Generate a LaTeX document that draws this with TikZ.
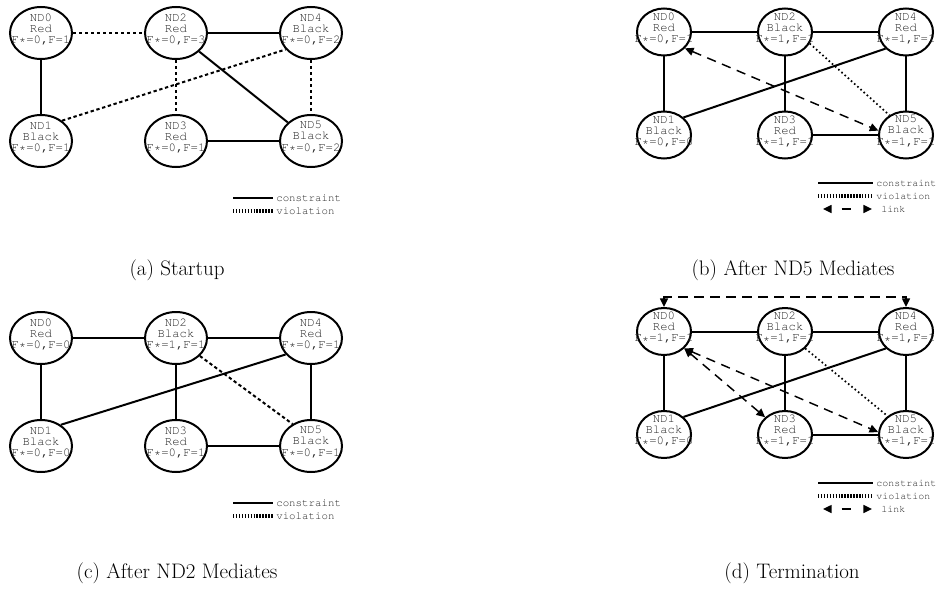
\documentclass[tikz,border=0pt]{standalone}
\usepackage[T1,TU]{fontenc}
\usetikzlibrary{shapes.geometric,positioning,arrows.meta}

\newcommand{\ndfont}{\fontencoding{T1}\fontfamily{pcr}\fontsize{9.2}{8.4}\selectfont}
\newcommand{\legfont}{\fontencoding{T1}\fontfamily{pcr}\fontsize{8.1}{9}\selectfont}
\newcommand{\legsmallfont}{\fontencoding{T1}\fontfamily{pcr}\fontsize{7.5}{9}\selectfont}

\tikzset{
  nd/.style={ellipse,draw,line width=1.5pt,inner sep=0pt,minimum width=46.5pt,minimum height=39pt},
  ndsmall/.style={nd,minimum width=40.5pt,minimum height=35.25pt},
  txt/.style={font=\ndfont,text=black!85,align=center,inner sep=0pt,yshift=3pt},
  constraint/.style={line width=1.5pt},
  violation/.style={line width=1.5pt,dash pattern=on 2.5pt off 2pt},
  dotviolation/.style={line width=1.3pt,dash pattern=on 1.2pt off 2pt},
  link/.style={<->,line width=1.1pt,dash pattern=on 7pt off 5pt},
  legviolation/.style={line width=3pt,dash pattern=on 1.1pt off 1.1pt},
  legtext/.style={font=\legfont,text=black!85,anchor=west,inner sep=0pt},
  caption/.style={font=\fontsize{15.75}{18}\selectfont}
}

\begin{document}
\begin{tikzpicture}[x=0.75pt,y=-0.75pt,>={Triangle[length=6.5pt,width=6pt]}]
  \useasboundingbox (0,0) rectangle (937,592);

  % (a) startup
  \begin{scope}[on grid,node distance=81pt and 101.25pt]
    \node[nd,label={[txt]center:{ND0\\Red\\F*=0,F=1}}] (a0) at (41,33) {};
    \node[nd,label={[txt]center:{ND2\\Red\\F*=0,F=3}}] (a2) [right=of a0] {};
    \node[nd,label={[txt]center:{ND4\\Black\\F*=0,F=2}}] (a4) [right=of a2] {};
    \node[nd,label={[txt]center:{ND1\\Black\\F*=0,F=1}}] (a1) [below=of a0] {};
    \node[nd,label={[txt]center:{ND3\\Red\\F*=0,F=1}}] (a3) [below=of a2] {};
    \node[nd,label={[txt]center:{ND5\\Black\\F*=0,F=2}}] (a5) [below=of a4] {};
  \end{scope}
  \draw[violation] (a0) -- (a2);
  \draw[constraint] (a2) -- (a4);
  \draw[constraint] (a0) -- (a1);
  \draw[violation] (a1.44) -- (a4.213);
  \draw[violation] (a2) -- (a3);
  \draw[constraint] (a2) -- (a5);
  \draw[violation] (a4) -- (a5);
  \draw[constraint] (a3) -- (a5);
  \node[legtext] (aleg1) at (276,198) {constraint};
  \node[legtext] (aleg2) at (276,211) {violation};
  \draw[constraint] ([xshift=-32.25pt]aleg1.west) -- ([xshift=-2.25pt]aleg1.west);
  \draw[legviolation] ([xshift=-32.25pt]aleg2.west) -- ([xshift=-2.25pt]aleg2.west);
  \node[caption] (capa) at (177,270) {(a) Startup};

  % (b) after ND5 mediates
  \begin{scope}[on grid,node distance=77.25pt and 90.75pt]
    \node[ndsmall,label={[txt]center:{ND0\\Red\\F*=0,F=1}}] (b0) at (664,32) {};
    \node[ndsmall,label={[txt]center:{ND2\\Black\\F*=1,F=1}}] (b2) [right=of b0] {};
    \node[ndsmall,label={[txt]center:{ND4\\Red\\F*=1,F=1}}] (b4) [right=of b2] {};
    \node[ndsmall,label={[txt]center:{ND1\\Black\\F*=0,F=0}}] (b1) [below=of b0] {};
    \node[ndsmall,label={[txt]center:{ND3\\Red\\F*=1,F=1}}] (b3) [below=of b2] {};
    \node[ndsmall,label={[txt]center:{ND5\\Black\\F*=1,F=1}}] (b5) [below=of b4] {};
  \end{scope}
  \draw[constraint] (b0) -- (b2);
  \draw[constraint] (b2) -- (b4);
  \draw[constraint] (b0) -- (b1);
  \draw[constraint] (b1.42) -- (b4.219);
  \draw[constraint] (b2) -- (b3);
  \draw[dotviolation] (b2.-25) -- (b5.130);
  \draw[constraint] (b4) -- (b5);
  \draw[constraint] (b3) -- (b5);
  \draw[link] (b0.-38) -- (b5.171);
  \node[legtext,font=\legsmallfont] (bleg1) at (876,183) {constraint};
  \node[legtext,font=\legsmallfont] (bleg2) at (876,196) {violation};
  \node[legtext,font=\legsmallfont] (bleg3) at (881,209) {link};
  \draw[constraint] ([xshift=-43.5pt]bleg1.west) -- ([xshift=-2.25pt]bleg1.west);
  \draw[legviolation] ([xshift=-43.5pt]bleg2.west) -- ([xshift=-2.25pt]bleg2.west);
  \draw[<->,line width=1.1pt,dash pattern=on 0pt off 7.7pt on 6.75pt off 30pt]
    ([xshift=-43.5pt]bleg3.west) -- ([xshift=-6.75pt]bleg3.west);
  \node[caption] (capb) at (793,270) {(b) After ND5 Mediates};

  % (c) after ND2 mediates
  \begin{scope}[on grid,node distance=81pt and 101.25pt]
    \node[nd,label={[txt]center:{ND0\\Red\\F*=0,F=0}}] (c0) at (41,338) {};
    \node[nd,label={[txt]center:{ND2\\Black\\F*=1,F=1}}] (c2) [right=of c0] {};
    \node[nd,label={[txt]center:{ND4\\Red\\F*=0,F=1}}] (c4) [right=of c2] {};
    \node[nd,label={[txt]center:{ND1\\Black\\F*=0,F=0}}] (c1) [below=of c0] {};
    \node[nd,label={[txt]center:{ND3\\Red\\F*=0,F=1}}] (c3) [below=of c2] {};
    \node[nd,label={[txt]center:{ND5\\Black\\F*=0,F=1}}] (c5) [below=of c4] {};
  \end{scope}
  \draw[constraint] (c0) -- (c2);
  \draw[constraint] (c2) -- (c4);
  \draw[constraint] (c0) -- (c1);
  \draw[constraint] (c1.47) -- (c4.213);
  \draw[constraint] (c2) -- (c3);
  \draw[violation] (c2.-37) -- (c5.130);
  \draw[constraint] (c4) -- (c5);
  \draw[constraint] (c3) -- (c5);
  \node[legtext] (cleg1) at (276,503) {constraint};
  \node[legtext] (cleg2) at (276,516) {violation};
  \draw[constraint] ([xshift=-32.25pt]cleg1.west) -- ([xshift=-2.25pt]cleg1.west);
  \draw[legviolation] ([xshift=-32.25pt]cleg2.west) -- ([xshift=-2.25pt]cleg2.west);
  \node[caption] (capc) at (177,573) {(c) After ND2 Mediates};

  % (d) termination
  \begin{scope}[on grid,node distance=77.25pt and 90.75pt]
    \node[ndsmall,label={[txt]center:{ND0\\Red\\F*=1,F=1}}] (d0) at (664,331.5) {};
    \node[ndsmall,label={[txt]center:{ND2\\Black\\F*=1,F=1}}] (d2) [right=of d0] {};
    \node[ndsmall,label={[txt]center:{ND4\\Red\\F*=1,F=1}}] (d4) [right=of d2] {};
    \node[ndsmall,label={[txt]center:{ND1\\Black\\F*=0,F=0}}] (d1) [below=of d0] {};
    \node[ndsmall,label={[txt]center:{ND3\\Red\\F*=1,F=1}}] (d3) [below=of d2] {};
    \node[ndsmall,label={[txt]center:{ND5\\Black\\F*=1,F=1}}] (d5) [below=of d4] {};
  \end{scope}
  \draw[constraint] (d0) -- (d2);
  \draw[constraint] (d2) -- (d4);
  \draw[constraint] (d0) -- (d1);
  \draw[constraint] (d1.42) -- (d4.220);
  \draw[constraint] (d2) -- (d3);
  \draw[dotviolation] (d2.-40) -- (d5.135);
  \draw[constraint] (d4) -- (d5);
  \draw[constraint] (d3) -- (d5);
  \draw[link] (d0.north) -- ++(0,-10) -| (d4.north);
  \draw[link] (d0.-40) -- (d3.139);
  \draw[link] (d0.-40) -- (d5.175);
  \node[legtext,font=\legsmallfont] (dleg1) at (876,483) {constraint};
  \node[legtext,font=\legsmallfont] (dleg2) at (876,496) {violation};
  \node[legtext,font=\legsmallfont] (dleg3) at (881,509) {link};
  \draw[constraint] ([xshift=-43.5pt]dleg1.west) -- ([xshift=-2.25pt]dleg1.west);
  \draw[legviolation] ([xshift=-43.5pt]dleg2.west) -- ([xshift=-2.25pt]dleg2.west);
  \draw[<->,line width=1.1pt,dash pattern=on 0pt off 7.7pt on 6.75pt off 30pt]
    ([xshift=-43.5pt]dleg3.west) -- ([xshift=-6.75pt]dleg3.west);
  \node[caption] (capd) at (792,573) {(d) Termination};
\end{tikzpicture}
\end{document}
